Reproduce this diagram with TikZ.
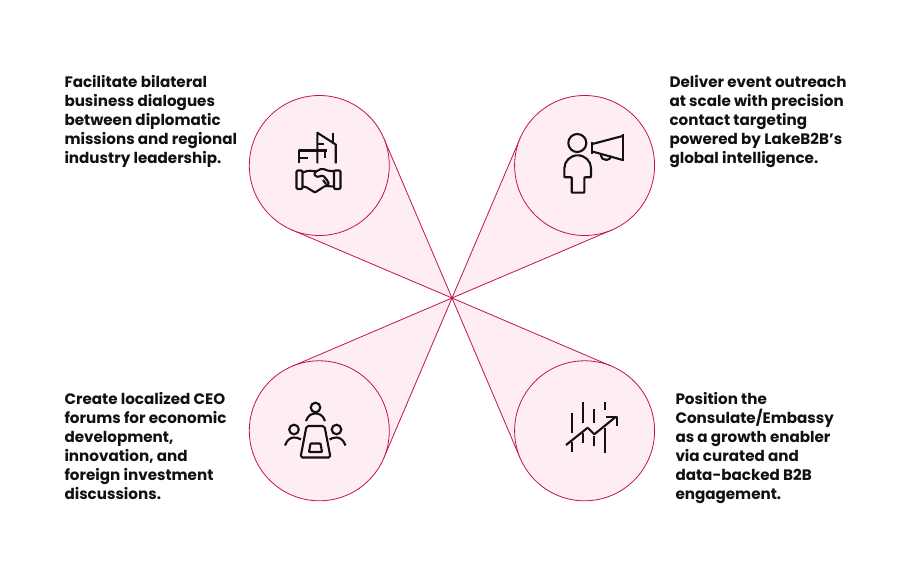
\documentclass[tikz,border=0pt]{standalone}
\usepackage{fontspec}
\setmainfont{Poppins}[UprightFont=* Bold,BoldFont=* Bold]
\usetikzlibrary{calc}
\definecolor{crim}{HTML}{C2134F}
\definecolor{blush}{HTML}{FEEEF3}
\definecolor{ink}{HTML}{111111}
\tikzset{
  x=1pt,y=-1pt,
  disc/.style={circle,draw=crim,fill=blush,line width=0.8pt,minimum size=140pt,inner sep=0pt,outer sep=0pt},
  petal/.style={draw=crim,fill=blush,line width=0.8pt,line join=miter},
  blurb/.style={anchor=north west,align=left,inner sep=0pt,outer sep=0pt,font=\fontsize{15.15}{19}\selectfont,text=ink},
  glyph/.style={draw=ink,line width=2.1pt,line cap=butt,line join=round,fill=none},
}
\begin{document}
\begin{tikzpicture}
\useasboundingbox (0,0) rectangle (900,588);
\coordinate (hub) at (452,298);
\path (319.3,165.5) node[disc,draw=none,fill=none] (tl0) {}
      (584.6,165.5) node[disc,draw=none,fill=none] (tr0) {}
      (319.3,430.8) node[disc,draw=none,fill=none] (bl0) {}
      (584.6,430.8) node[disc,draw=none,fill=none] (br0) {};
\foreach \c in {tl0,tr0,bl0,br0}{
  \draw[petal] (hub) -- (tangent cs:node=\c,point={(hub)},solution=1)
    -- (tangent cs:node=\c,point={(hub)},solution=2) -- cycle;
}
\node[disc] (tl) at (tl0) {};
\node[disc] (tr) at (tr0) {};
\node[disc] (bl) at (bl0) {};
\node[disc] (br) at (br0) {};
% texts
\node[blurb] (t1) at (64.5,75) {Facilitate bilateral\\business dialogues\\between diplomatic\\missions and regional\\industry leadership.};
\node[blurb] (t2) at (669.5,75) {Deliver event outreach\\at scale with precision\\contact targeting\\powered by LakeB2B’s\\global intelligence.};
\node[blurb] (t3) at (64.5,392) {Create localized CEO\\forums for economic\\development,\\innovation, and\\foreign investment\\discussions.};
\node[blurb] (t4) at (675.5,392) {Position the\\Consulate/Embassy\\as a growth enabler\\via curated and\\data-backed B2B\\engagement.};
% icon: buildings and handshake
\begin{scope}[glyph]
\draw (299,163.5) -- (299,150.5) -- (326.5,150.5);
\draw (299,157.7) -- (308,157.7);
\draw (317.3,163.5) -- (317.3,132.7) -- (335.7,144.5) -- (335.7,163.5);
\draw (333.3,132.7) -- (333.3,144);
\draw (317.3,144.3) -- (323.5,144.3);
\draw (325,150.5) -- (325,158);
\draw[rounded corners=1.2pt] (296.5,170.5) rectangle (302.5,189);
\draw[rounded corners=1.2pt] (334,170.5) rectangle (340.5,189);
\draw[rounded corners=1.5pt] (302.5,172.5) -- (309,170.5) -- (316,171.5) -- (322,168.5) -- (329,171) -- (334,171);
\draw[rounded corners=1pt] (302.5,186.5) -- (306,187) -- (315,192.5) -- (325,186) -- (334,186.5);
\draw[rounded corners=1pt] (316,171.5) -- (314,174.5) -- (317,177) -- (323,175.5) -- (327,180) -- (329,184) -- (325,186);
\draw (323,180) -- (326,184);
\end{scope}
% icon: person and megaphone
\begin{scope}[glyph]
\draw (577.3,143) circle (9);
\draw[rounded corners=0.6pt] (571.7,192.7) -- (571.7,177.3) -- (564.4,177.3) -- (564.4,168.6) arc[start angle=180,end angle=360,radius=13.3] -- (591,177.3) -- (584.3,177.3) -- (584.3,192.7) -- cycle;
\draw (592.3,141.7) -- (592.3,154);
\draw (592.3,144) -- (622.7,136);
\draw (592.3,151.5) -- (622.7,160);
\draw (622.7,134) -- (622.7,161.5);
\draw (600.6,155) arc[start angle=175,end angle=15,radius=5.5];
\end{scope}
% icon: meeting
\begin{scope}[glyph]
\draw (315.5,407.5) circle (4.8);
\draw (306,421) .. controls (308,415) and (312,413.5) .. (315.5,413.5) .. controls (319,413.5) and (323,415) .. (325,421);
\draw (294,429.5) circle (4.8);
\draw (285,445.5) .. controls (287,439.5) and (291,437.5) .. (294,437.5) .. controls (296,437.5) and (299,438) .. (301,439.5);
\draw (336.5,429.5) circle (4.8);
\draw (345.5,445.5) .. controls (343.5,439.5) and (339.5,437.5) .. (336.5,437.5) .. controls (334.5,437.5) and (331.5,438) .. (329.5,439.5);
\draw[rounded corners=1.8pt] (306.5,426) -- (324.5,426) -- (330.5,457.5) -- (300.5,457.5) -- cycle;
\draw[rounded corners=0.6pt] (310.5,443.5) -- (320.5,443.5) -- (322,452) -- (309,452) -- cycle;
\end{scope}
% icon: chart
\begin{scope}[glyph]
\draw (572.3,413.3) -- (572.3,433); \draw (572.3,441.7) -- (572.3,452);
\draw (583,402.3) -- (583,422.7); \draw (583,433) -- (583,443);
\draw (594,409) -- (594,423); \draw (594,436) -- (594,446);
\draw (605,402) -- (605,410); \draw (605,428) -- (605,452.7);
\draw (566,445) -- (587.7,427.7) -- (594.3,434.3) -- (616,416.7);
\draw (606,416.7) -- (616.7,416.7) -- (616.7,426);
\end{scope}
\end{tikzpicture}
\end{document}
